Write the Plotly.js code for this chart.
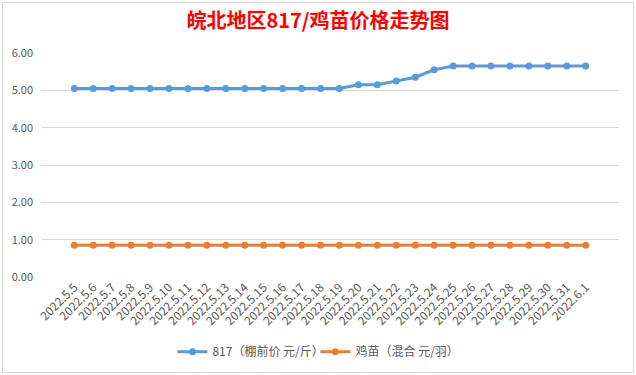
<!DOCTYPE html>
<html>
<head>
<meta charset="utf-8">
<script src="https://cdn.plot.ly/plotly-3.0.1.min.js"></script>
<style>
html,body{margin:0;padding:0;background:#fff;}
#wrap{position:relative;width:636px;height:375px;}
#chart{width:636px;height:375px;}
#frame{position:absolute;left:2px;top:2px;width:630px;height:369px;border:1px solid #d9d9d9;pointer-events:none;}
</style>
</head>
<body>
<div id="wrap"><div id="chart"></div><div id="frame"></div></div>
<script>
const dates = ["2022.5.5","2022.5.6","2022.5.7","2022.5.8","2022.5.9","2022.5.10","2022.5.11","2022.5.12","2022.5.13","2022.5.14","2022.5.15","2022.5.16","2022.5.17","2022.5.18","2022.5.19","2022.5.20","2022.5.21","2022.5.22","2022.5.23","2022.5.24","2022.5.25","2022.5.26","2022.5.27","2022.5.28","2022.5.29","2022.5.30","2022.5.31","2022.6.1"];
const price817 = [5.05,5.05,5.05,5.05,5.05,5.05,5.05,5.05,5.05,5.05,5.05,5.05,5.05,5.05,5.05,5.15,5.15,5.25,5.35,5.55,5.65,5.65,5.65,5.65,5.65,5.65,5.65,5.65];
const chick = [0.85,0.85,0.85,0.85,0.85,0.85,0.85,0.85,0.85,0.85,0.85,0.85,0.85,0.85,0.85,0.85,0.85,0.85,0.85,0.85,0.85,0.85,0.85,0.85,0.85,0.85,0.85,0.85];
const name817 = "817（棚前价 元/斤）";
const nameChick = "鸡苗（混合 元/羽）";
const titleText = "皖北地区817/鸡苗价格走势图";

const baseFont = "'Noto Sans CJK SC', 'Noto Sans', sans-serif";
const traces = [
  {x: dates, y: price817, name: name817, type: "scatter", mode: "lines+markers",
   line: {color: "#5B9BD5", width: 3}, marker: {color: "#5B9BD5", size: 7}},
  {x: dates, y: chick, name: nameChick, type: "scatter", mode: "lines+markers",
   line: {color: "#ED7D31", width: 3}, marker: {color: "#ED7D31", size: 7}}
];
const layout = {
  width: 636, height: 375,
  margin: {l: 41, r: 17, t: 53, b: 98, autoexpand: false},
  paper_bgcolor: "#fff", plot_bgcolor: "#fff",
  font: {family: baseFont, color: "#595959", size: 11},
  title: {text: "<b>" + titleText + "</b>", font: {family: baseFont, color: "#FF0000", size: 20},
          x: 0.5, xanchor: "center", xref: "container", y: 0.945, yanchor: "middle", yref: "container"},
  xaxis: {type: "category", tickangle: -45, tickfont: {size: 12, color: "#595959"},
          showgrid: false, showline: false, zeroline: false, ticks: "", automargin: false},
  yaxis: {range: [0, 6], dtick: 1, tickformat: ".2f", showgrid: true, gridcolor: "#d9d9d9",
          gridwidth: 1, zeroline: false, showline: false, ticks: "", ticklabelstandoff: 7,
          tickfont: {size: 11, color: "#595959"}, automargin: false},
  showlegend: true,
  legend: {orientation: "h", x: 0.496, xanchor: "center", xref: "container",
           yref: "container", y: 0.062, yanchor: "middle",
           entrywidth: 98, entrywidthmode: "pixels",
           font: {size: 12, color: "#595959"}, itemwidth: 30, tracegroupgap: 0, bgcolor: "rgba(0,0,0,0)"}
};
Plotly.newPlot("chart", traces, layout, {displayModeBar: false, staticPlot: true});
</script>
</body>
</html>
